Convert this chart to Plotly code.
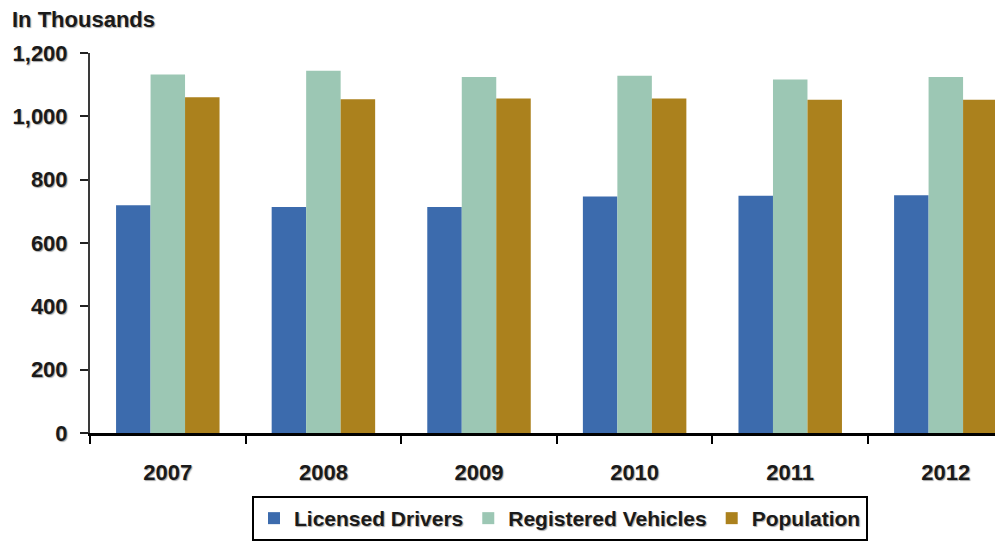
import plotly.graph_objects as go

# Annual figures, in thousands
years = ["2007", "2008", "2009", "2010", "2011", "2012"]
licensed_drivers = [719, 714, 714, 747, 749, 751]
registered_vehicles = [1132, 1144, 1124, 1128, 1116, 1124]
population = [1060, 1054, 1056, 1056, 1052, 1052]

y_ticks = [0, 200, 400, 600, 800, 1000, 1200]

W, H = 995, 541
M_L, M_R, M_T, M_B = 90, 0, 53, 102
x_range = [-0.5, 5.316]
y_range = [0, 1200]

FONT = "Liberation Sans, Arial, sans-serif"
TXT = "#1a1a1a"
SHADOW = "1px 1px 1px rgba(0,0,0,0.35)"


def bold_font(size):
    return dict(family=FONT, size=size, color=TXT, weight="bold", shadow=SHADOW)


fig = go.Figure()
series = [
    ("Licensed Drivers", licensed_drivers, "#3c6bad"),
    ("Registered Vehicles", registered_vehicles, "#9cc7b4"),
    ("Population", population, "#ab811d"),
]
for name, vals, color in series:
    fig.add_trace(go.Bar(
        name=name, x=years, y=vals,
        marker=dict(color=color, line=dict(width=0)),
    ))

plot_w = W - M_L - M_R
plot_h = H - M_T - M_B

fig.update_layout(
    width=W, height=H,
    margin=dict(l=M_L, r=M_R, t=M_T, b=M_B, pad=0),
    paper_bgcolor="white", plot_bgcolor="white",
    barmode="group", bargap=0.335, bargroupgap=0,
    font=bold_font(22),
    title=dict(
        text="<b>In Thousands</b>", xref="container", yref="container",
        x=12 / W, xanchor="left", y=1 - 19 / H, yanchor="middle",
        font=bold_font(22),
    ),
    xaxis=dict(
        type="category", categoryorder="array", categoryarray=years,
        range=x_range, tickson="boundaries",
        showline=True, linecolor="black", linewidth=3,
        ticks="outside", ticklen=8, tickwidth=2, tickcolor="black",
        showgrid=False, zeroline=False,
        tickfont=bold_font(22),
        ticklabelstandoff=18,
    ),
    xaxis2=dict(
        overlaying="x", anchor="y", range=x_range,
        tickmode="array", tickvals=[i - 0.5 for i in range(len(years))],
        ticks="inside", ticklen=8, tickwidth=2, tickcolor="black",
        showticklabels=False, showline=False, showgrid=False, zeroline=False,
    ),
    yaxis=dict(
        range=y_range, tickmode="array", tickvals=y_ticks, tickformat=",",
        showline=True, linecolor="#3a3a3a", linewidth=2,
        ticks="outside", ticklen=8, tickwidth=2, tickcolor="#222222",
        showgrid=False, zeroline=False,
        tickfont=bold_font(22),
        ticklabelstandoff=8,
    ),
    yaxis2=dict(
        overlaying="y", anchor="x", range=y_range,
        tickmode="array", tickvals=y_ticks,
        ticks="inside", ticklen=8, tickwidth=2, tickcolor="#222222",
        showticklabels=False, showline=False, showgrid=False, zeroline=False,
    ),
    legend=dict(
        orientation="h", x=(560 - M_L) / plot_w, xanchor="center",
        y=(H - M_B - 503) / plot_h, yanchor="top",
        bordercolor="black", borderwidth=2, bgcolor="white",
        font=bold_font(21),
        traceorder="normal",
    ),
    showlegend=True,
)

fig.write_html("out.html")
